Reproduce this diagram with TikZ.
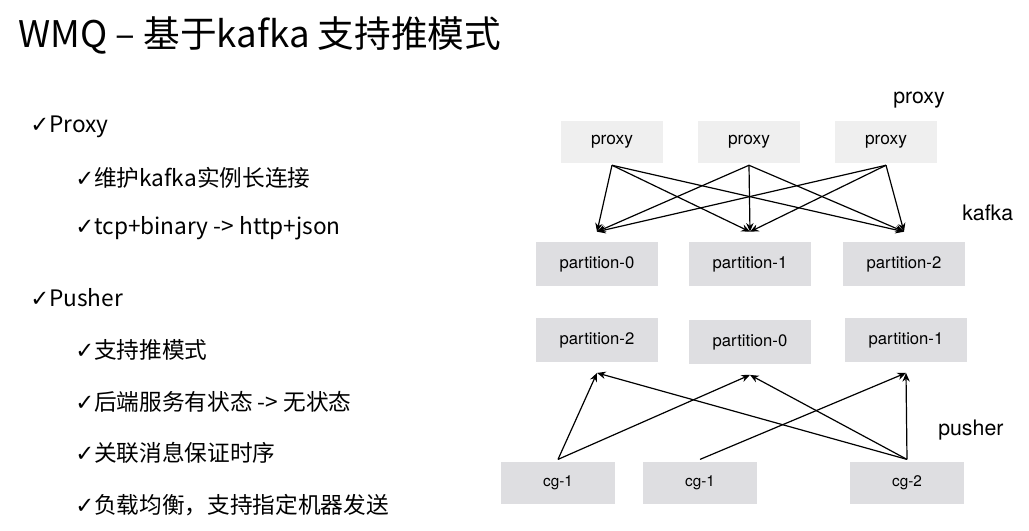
\documentclass[tikz,border=0pt]{standalone}
\usepackage{fontspec}
\setmainfont{Noto Sans CJK SC}
\newfontfamily\chkfont{DejaVu Sans}
\newfontfamily\boxfont{TeX Gyre Heros}
\usetikzlibrary{arrows.meta}
\definecolor{boxgray}{HTML}{DEDEE1}
\definecolor{proxygray}{HTML}{EFEFEF}
\newcommand{\chkmark}{{\chkfont\fontsize{17}{19}\selectfont\char"2713}}
\tikzset{
    box/.style={fill=boxgray, inner sep=0pt, minimum width=91.5pt, minimum height=33pt,
        font=\boxfont\fontsize{12.5}{15}\selectfont},
    proxybox/.style={box, fill=proxygray, minimum width=76.5pt, minimum height=31.5pt,
        font=\boxfont\fontsize{13}{15}\selectfont},
    cgbox/.style={box, minimum width=86pt, minimum height=32pt,
        font=\boxfont\fontsize{11.5}{14}\selectfont},
    link/.style={-{Stealth[length=6.5pt,width=5.5pt]}, line width=0.9pt},
    item/.style={anchor=west, inner sep=0pt, font=\fontsize{17}{20}\selectfont},
    layer/.style={anchor=west, inner sep=0pt, font=\boxfont\fontsize{16}{19}\selectfont},
}
\begin{document}
\begin{tikzpicture}[x=0.75pt, y=-0.75pt]
    \useasboundingbox (0,0) rectangle (1029,531);

    % title and bullet list
    \node[anchor=west, inner sep=0pt, font=\fontsize{27.5}{32}\selectfont] (title) at (18,35) {WMQ – 基于kafka 支持推模式};
    \node[item] (i1) at (30,127) {\chkmark Proxy};
    \node[item] (i2) at (75,178) {\chkmark 维护kafka实例长连接};
    \node[item] (i3) at (75,228) {\chkmark tcp+binary -> http+json};
    \node[item] (i4) at (30,298) {\chkmark Pusher};
    \node[item] (i5) at (75,350) {\chkmark 支持推模式};
    \node[item] (i6) at (75,402) {\chkmark 后端服务有状态 -> 无状态};
    \node[item] (i7) at (75,453) {\chkmark 关联消息保证时序};
    \node[item] (i8) at (75,505) {\chkmark 负载均衡，支持指定机器发送};

    % layer labels
    \node[layer] (lproxy) at (893,100) {proxy};
    \node[layer] (lkafka) at (962,213) {kafka};
    \node[layer] (lpusher) at (938,430) {pusher};

    % proxies
    \node[proxybox] (p1) at (612,142) {proxy};
    \node[proxybox] (p2) at (749,142) {proxy};
    \node[proxybox] (p3) at (886,142) {proxy};

    % kafka partitions
    \node[box] (ka) at (597,264) {partition-0};
    \node[box] (kb) at (750,264) {partition-1};
    \node[box] (kc) at (904,264) {partition-2};

    % pusher partitions
    \node[box] (qa) at (597,340) {partition-2};
    \node[box] (qb) at (750,342) {partition-0};
    \node[box] (qc) at (906,340) {partition-1};

    % consumer groups
    \node[cgbox] (c1) at (558,483) {cg-1};
    \node[cgbox] (c2) at (700,483) {cg-1};
    \node[cgbox] (c3) at (907,483) {cg-2};

    \foreach \s in {p1,p2,p3} {
        \foreach \t in {ka,kb,kc} {
            \draw[link] ([yshift=-1.5pt]\s.south) -- ([yshift=7.5pt]\t.north);
        }
    }

    \draw[link] ([yshift=1.5pt]c1.north) -- ([yshift=-8pt]qa.south);
    \draw[link] ([yshift=1.5pt]c1.north) -- ([yshift=-8pt]qb.south);
    \draw[link] ([yshift=1.5pt]c2.north) -- ([yshift=-8pt]qc.south);
    \foreach \t in {qa,qb,qc} {
        \draw[link] ([yshift=1.5pt]c3.north) -- ([yshift=-8pt]\t.south);
    }
\end{tikzpicture}
\end{document}
